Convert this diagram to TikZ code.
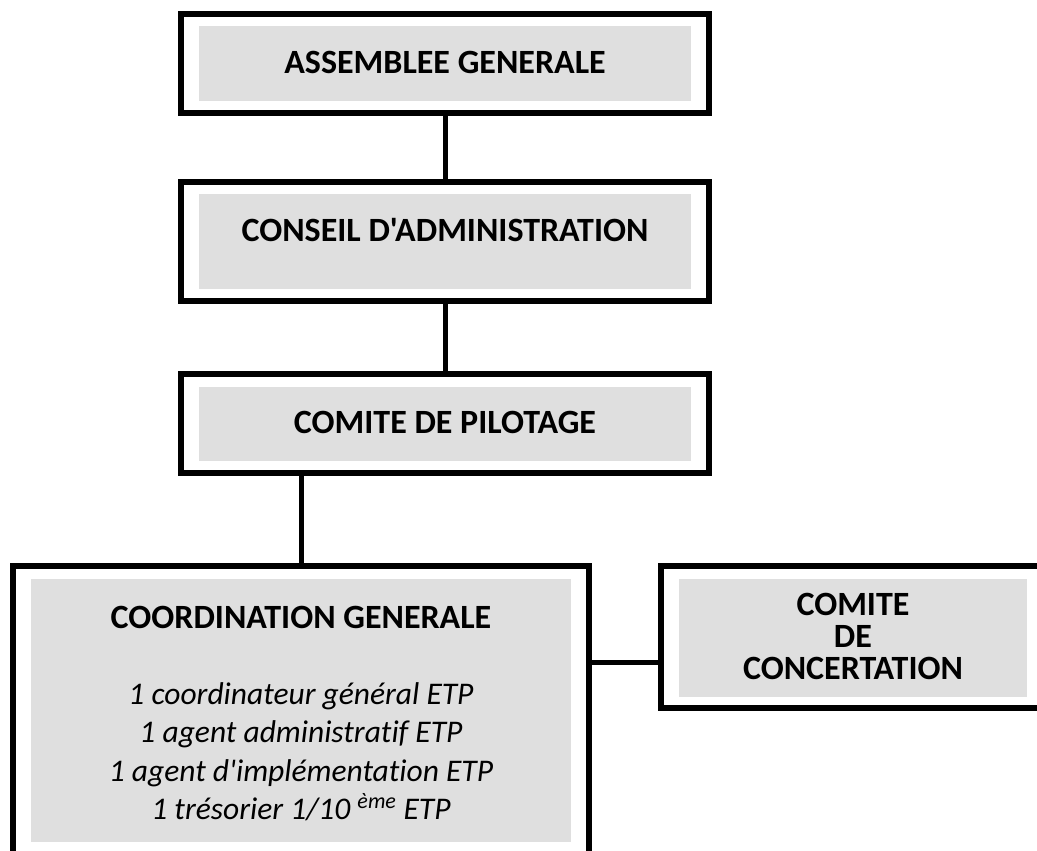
\documentclass[tikz,border=0pt]{standalone}
\usepackage{fontspec}
\setmainfont{Carlito}[Ligatures={TeXOff,CommonOff}]
\definecolor{boxgray}{RGB}{223,223,223}
\begin{document}
\begin{tikzpicture}[x=1pt,y=-1pt,
  frame/.style={draw=black, line width=6pt, inner sep=0pt, outer sep=0pt, rectangle},
  panel/.style={fill=boxgray, inner sep=0pt, outer sep=0pt, rectangle},
  head/.style={font=\bfseries\fontsize{34}{36}\selectfont, anchor=base, inner sep=0pt},
  item/.style={font=\itshape\fontsize{31.5}{36}\selectfont, anchor=base, inner sep=0pt},
  link/.style={line width=5pt}]
\useasboundingbox (0,0) rectangle (1037,851);
\clip (0,0) rectangle (1037,851);
% Assemblee generale
\node[frame, minimum width=528pt, minimum height=99pt] (ag) at (445,63.5) {};
\node[panel, minimum width=492pt, minimum height=75pt] (agp) at (445,63.5) {};
\node[head] (agt) at (445,74) {ASSEMBLEE GENERALE};
% Conseil d'administration
\node[frame, minimum width=528pt, minimum height=119pt] (ca) at (445,241.5) {};
\node[panel, minimum width=492pt, minimum height=95pt] (cap) at (445,241.5) {};
\node[head] (cat) at (445,241) {CONSEIL D'ADMINISTRATION};
% Comite de pilotage
\node[frame, minimum width=528pt, minimum height=99pt] (cp) at (445,423.5) {};
\node[panel, minimum width=492pt, minimum height=74pt] (cpp) at (445,424) {};
\node[head] (cpt) at (445,433) {COMITE DE PILOTAGE};
% Coordination generale
\node[frame, minimum width=576pt, minimum height=314pt] (cg) at (301,723) {};
\node[panel, minimum width=540pt, minimum height=263pt] (cgp) at (301,710.5) {};
\node[head] (cgt) at (301,628) {COORDINATION GENERALE};
\node[item] (cg1) at (301,704) {1 coordinateur général ETP};
\node[item] (cg2) at (301,742.5) {1 agent administratif ETP};
\node[item] (cg3) at (301,781) {1 agent d'implémentation ETP};
\node[item] (cg4) at (301,819.5) {1 trésorier 1/10 \raisebox{2pt}{\textsuperscript{ème}} ETP};
% Comite de concertation
\node[frame, minimum width=409pt, minimum height=142pt] (cc) at (865.5,637) {};
\node[panel, minimum width=348pt, minimum height=118pt] (ccp) at (853,638) {};
\node[head] (cc1) at (853,615) {COMITE};
\node[head] (cc2) at (853,647) {DE};
\node[head] (cc3) at (853,679) {CONCERTATION};
% connectors
\coordinate (j) at (625,662);
\draw[link] (ag.south) -- (ca.north);
\draw[link] (ca.south) -- (cp.north);
\draw[link] (cp.south -| cg.north) -- (cg.north);
\draw[link] (cg.east |- j) -- (cc.west |- j);
\end{tikzpicture}
\end{document}
